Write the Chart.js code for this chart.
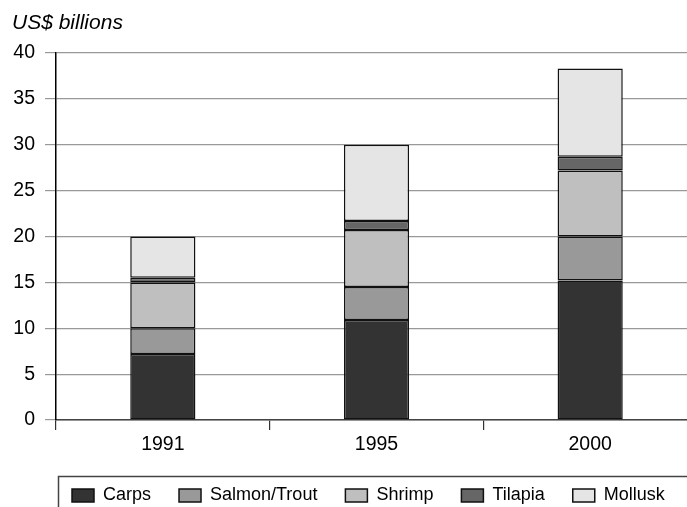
<!DOCTYPE html>
<html>
<head>
<meta charset="utf-8">
<script src="https://cdn.jsdelivr.net/npm/chart.js@4/dist/chart.umd.min.js"></script>
<style>
  html, body { margin: 0; padding: 0; background: #fff; overflow: hidden; }
  #wrap { position: absolute; left: 0; top: 0; width: 700px; height: 522px; }
</style>
</head>
<body>
<div id="wrap"><canvas id="chart"></canvas></div>
<script>
// Aquaculture production value by species group, US$ billions
const years = ['1991', '1995', '2000'];
const carps = [7.2, 10.9, 15.2];
const salmonTrout = [2.8, 3.6, 4.8];
const shrimp = [5.0, 6.2, 7.2];
const tilapia = [0.5, 1.0, 1.5];
const mollusk = [4.5, 8.3, 9.6];
const yTicks = [0, 5, 10, 15, 20, 25, 30, 35, 40];

const FONT = "'Liberation Sans', Arial, Helvetica, sans-serif";
const LEGEND_PAD = 28;

function series(label, data, color) {
  return {
    label, data,
    backgroundColor: color,
    borderColor: '#111',
    borderWidth: 1.5,
    borderSkipped: false,
    barPercentage: 0.305,
    categoryPercentage: 1.0
  };
}

// Places the legend row inside its frame and draws the frame
const legendFrame = {
  id: 'legendFrame',
  afterLayout(chart) {
    const lg = chart.legend;
    lg.left = 72 - LEGEND_PAD;
    lg.right = 700;
    lg.top = 486.5 - LEGEND_PAD;
  },
  afterDraw(chart) {
    const ctx = chart.ctx;
    ctx.save();
    ctx.strokeStyle = '#444';
    ctx.lineWidth = 1.5;
    ctx.strokeRect(58.5, 476.5, 700, 100);
    ctx.restore();
  }
};

new Chart(document.getElementById('chart'), {
  type: 'bar',
  data: {
    labels: years,
    datasets: [
      series('Carps', carps, '#333333'),
      series('Salmon/Trout', salmonTrout, '#999999'),
      series('Shrimp', shrimp, '#bfbfbf'),
      series('Tilapia', tilapia, '#666666'),
      series('Mollusk', mollusk, '#e5e5e5')
    ]
  },
  options: {
    responsive: true,
    maintainAspectRatio: false,
    animation: false,
    layout: { padding: { left: 12, right: 3, top: 4, bottom: 0 } },
    plugins: {
      title: {
        display: true,
        text: 'US$ billions',
        align: 'start',
        color: '#000',
        font: { family: FONT, size: 21, style: 'italic', weight: 'normal' },
        padding: { top: 6.6, bottom: 17.2 }
      },
      legend: {
        position: 'bottom',
        align: 'start',
        labels: {
          color: '#000',
          font: { family: FONT, size: 18 },
          boxWidth: 22,
          boxHeight: 13,
          padding: LEGEND_PAD,
          useBorderRadius: false
        }
      },
      tooltip: { enabled: false }
    },
    scales: {
      x: {
        stacked: true,
        grid: {
          offset: true,
          drawOnChartArea: false,
          drawTicks: true,
          tickLength: 10,
          color: '#333',
          lineWidth: 1.2
        },
        border: { color: '#444', width: 1.5 },
        ticks: { color: '#000', font: { family: FONT, size: 19.5 }, padding: 3 },
        afterFit(s) { s.height = 46; }
      },
      y: {
        stacked: true,
        min: 0,
        max: 40,
        afterBuildTicks(s) { s.ticks = yTicks.map(v => ({ value: v })); },
        grid: {
          color: '#999',
          lineWidth: 1.2,
          drawTicks: true,
          tickLength: 11
        },
        border: { color: '#000', width: 1.5 },
        ticks: { color: '#000', font: { family: FONT, size: 19.5 }, padding: 10 },
        afterFit(s) { s.width = 44; }
      }
    }
  },
  plugins: [legendFrame]
});
</script>
</body>
</html>
